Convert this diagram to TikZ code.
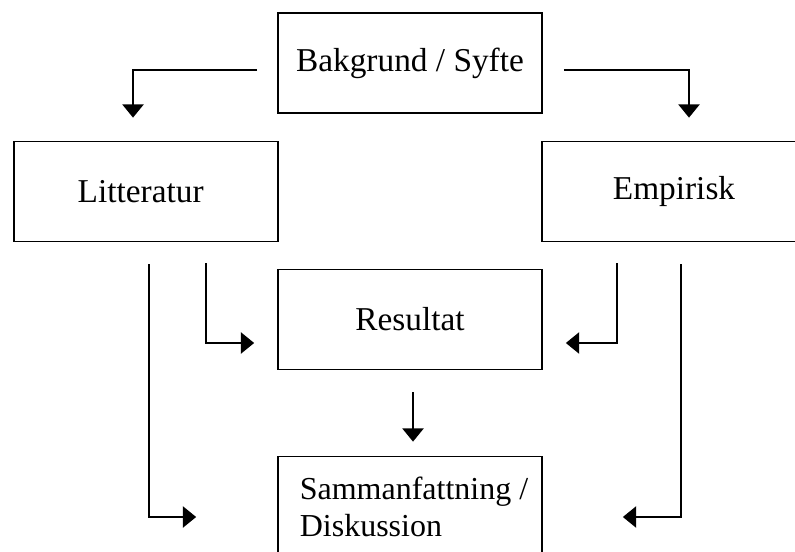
\documentclass[tikz,border=0pt]{standalone}
\usepackage{fontspec}
\setmainfont{Liberation Serif}
\usetikzlibrary{arrows.meta}

\begin{document}
\begin{tikzpicture}[x=0.75pt,y=-0.75pt,
	box/.style={draw,line width=1.3pt,minimum width=198pt,minimum height=75pt,inner sep=0pt,font=\fontsize{25}{27.75}\selectfont},
	arr/.style={line width=1.3pt,-{Triangle[width=16pt,length=10pt]}}]
		
		\clip (0,0) rectangle (795,552);
		
		\node[box] (bak) at (410,63) {\raisebox{-3pt}{Bakgrund / Syfte}};
		\node[box] (lit) at (146,191.5) {\hspace*{-8pt}Litteratur};
		\node[box] (emp) at (674,191.5) {Empirisk};
		\node[box] (res) at (410,319.5) {Resultat};
		\node[box,align=left,font=\fontsize{24}{27.75}\selectfont] (sam) at (410,506.5) {\hspace*{6pt}Sammanfattning /\\\hspace*{6pt}Diskussion};
		
		\draw[arr] ([shift={(-20,7)}]bak.west) -| ([shift={(-13,-23)}]lit.north);
		\draw[arr] ([shift={(21,7)}]bak.east) -| ([shift={(15,-23)}]emp.north);
		\draw[arr] ([shift={(60,21)}]lit.south) |- ([shift={(-23,23.5)}]res.west);
		\draw[arr] ([shift={(-57,21)}]emp.south) |- ([shift={(23,23.5)}]res.east);
		\draw[arr] ([shift={(3,22)}]lit.south) |- ([shift={(-81,10.5)}]sam.west);
		\draw[arr] ([shift={(7,22)}]emp.south) |- ([shift={(80,10.5)}]sam.east);
		\draw[arr] ([shift={(3,22)}]res.south) -- ([shift={(3,-14)}]sam.north);
		
\end{tikzpicture}
\end{document}
